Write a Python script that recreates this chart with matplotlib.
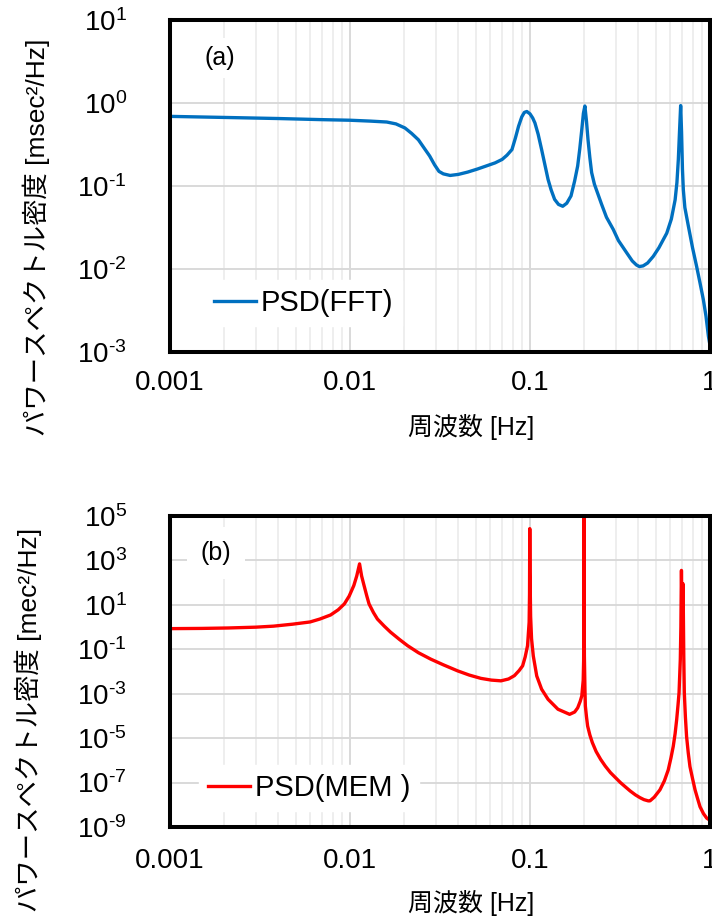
import math
import matplotlib
matplotlib.use("Agg")
import matplotlib.pyplot as plt
from matplotlib.ticker import FixedLocator, FuncFormatter, LogLocator, NullFormatter

plt.rcParams['font.family'] = ['Liberation Sans', 'Noto Sans CJK JP']
plt.rcParams['mathtext.fontset'] = 'custom'
plt.rcParams['mathtext.rm'] = 'Liberation Sans'
plt.rcParams['mathtext.it'] = 'Liberation Sans:italic'
plt.rcParams['mathtext.bf'] = 'Liberation Sans:bold'

# (a) FFT power spectral density
fft_freq = [0.001, 0.002, 0.004, 0.007, 0.01, 0.013, 0.016, 0.018, 0.0202, 0.022,
            0.024, 0.026, 0.0277, 0.0295, 0.0312, 0.033, 0.036, 0.040, 0.045, 0.051,
            0.057, 0.064, 0.070, 0.0745, 0.0794, 0.083, 0.0864, 0.090, 0.093, 0.096,
            0.100, 0.1035, 0.1065, 0.111, 0.116, 0.121, 0.126, 0.131, 0.137, 0.144,
            0.152, 0.160, 0.169, 0.177, 0.184, 0.189, 0.194, 0.198, 0.2018, 0.206,
            0.210, 0.215, 0.220, 0.228, 0.237, 0.25, 0.266, 0.29, 0.31, 0.345,
            0.37, 0.39, 0.405, 0.425, 0.45, 0.484, 0.52, 0.575, 0.61, 0.64,
            0.655, 0.667, 0.677, 0.687, 0.695, 0.703, 0.711, 0.725, 0.758, 0.80,
            0.843, 0.88, 0.918, 0.95, 0.98, 1.0]
fft_psd = [0.69, 0.67, 0.65, 0.63, 0.62, 0.605, 0.59, 0.56, 0.50, 0.43,
           0.36, 0.28, 0.23, 0.18, 0.15, 0.14, 0.134, 0.138, 0.147, 0.16,
           0.174, 0.19, 0.209, 0.235, 0.275, 0.38, 0.525, 0.68, 0.77, 0.79,
           0.74, 0.66, 0.575, 0.42, 0.275, 0.18, 0.12, 0.09, 0.069, 0.06,
           0.057, 0.062, 0.076, 0.115, 0.174, 0.28, 0.48, 0.75, 0.92, 0.6,
           0.363, 0.22, 0.145, 0.105, 0.083, 0.06, 0.042, 0.03, 0.022, 0.0156,
           0.0125, 0.0112, 0.0107, 0.0109, 0.0118, 0.0142, 0.018, 0.027, 0.040, 0.068,
           0.11, 0.21, 0.45, 0.93, 0.45, 0.16, 0.09, 0.055, 0.033, 0.018,
           0.0107, 0.0068, 0.0043, 0.0027, 0.00155, 0.0012]

# (b) MEM power spectral density
mem_freq = [0.001, 0.0015, 0.0021, 0.003, 0.00376, 0.0048, 0.006, 0.0068, 0.0078, 0.0086,
            0.0093, 0.0099, 0.0105, 0.0109, 0.0113, 0.0116, 0.01197, 0.0124, 0.01276, 0.0135,
            0.0142, 0.0155, 0.0168, 0.0188, 0.0209, 0.024, 0.0281, 0.033, 0.0396, 0.046,
            0.0534, 0.061, 0.069, 0.076, 0.0819, 0.087, 0.091, 0.094, 0.0969, 0.0989,
            0.0994, 0.0997, 0.1000, 0.1008, 0.102, 0.1043, 0.109, 0.116, 0.126, 0.143,
            0.166, 0.177, 0.184, 0.190, 0.194, 0.1975, 0.1986, 0.1993, 0.1996, 0.2000,
            0.2005, 0.202, 0.203, 0.206, 0.209, 0.215, 0.222, 0.233, 0.247, 0.262,
            0.28, 0.30, 0.318, 0.338, 0.36, 0.385, 0.408, 0.43, 0.454, 0.464,
            0.49, 0.527, 0.558, 0.586, 0.607, 0.625, 0.64, 0.653, 0.664, 0.673,
            0.684, 0.689, 0.692, 0.694, 0.697, 0.700, 0.703, 0.706, 0.708, 0.711,
            0.715, 0.72, 0.73, 0.741, 0.757, 0.774, 0.80, 0.826, 0.85, 0.88,
            0.92, 0.959, 1.0]
mem_psd = [0.85, 0.87, 0.91, 0.99, 1.1, 1.35, 1.7, 2.3, 3.5, 6,
           11, 25, 74, 200, 700, 200, 74, 25, 11, 4.5,
           2.3, 1.1, 0.59, 0.28, 0.145, 0.07, 0.036, 0.02, 0.0107, 0.0069,
           0.0049, 0.0041, 0.0038, 0.0046, 0.0065, 0.011, 0.018, 0.045, 0.145, 1.65,
           30, 2.7e4, 300, 3, 0.3, 0.05, 0.0063, 0.0016, 5.6e-4, 2e-4,
           1.18e-4, 1.5e-4, 2.3e-4, 4.5e-4, 8e-4, 0.004, 0.03, 10, 1.5e5, 10,
           0.05, 1.5e-3, 2.8e-4, 9e-5, 3.5e-5, 1.4e-5, 6.3e-6, 2.5e-6, 1.1e-6, 5.5e-7,
           2.8e-7, 1.6e-7, 1e-7, 6.5e-8, 4.2e-8, 2.8e-8, 2.1e-8, 1.7e-8, 1.5e-8, 1.5e-8,
           2.2e-8, 4.7e-8, 1.2e-7, 3.7e-7, 1.3e-6, 4.3e-6, 1.6e-5, 6.9e-5, 3e-4, 1.1e-3,
           0.035, 1, 50, 355, 30, 3, 5, 60, 89, 5,
           0.05, 1.1e-3, 9e-5, 1.2e-5, 2.2e-6, 5.2e-7, 1.5e-7, 4.7e-8, 2.1e-8, 8.2e-9,
           4e-9, 2.5e-9, 2e-9]

x_ticks = [0.001, 0.01, 0.1, 1]
x_tick_labels = ['0.001', '0.01', '0.1', '1']
y_ticks_a = [1e-3, 1e-2, 1e-1, 1e0, 1e1]
y_ticks_b = [1e-9, 1e-7, 1e-5, 1e-3, 1e-1, 1e1, 1e3, 1e5]

ylabel_a = 'パワースペクトル密度 [msec²/Hz]'
ylabel_b = 'パワースペクトル密度 [mec²/Hz]'
xlabel = '周波数 [Hz]'


def pow_label(v, pos):
    e = int(round(math.log10(v)))
    if e < 0:
        return r'$\mathregular{10^{\text{-}%d}}$' % (-e)
    return r'$\mathregular{10^{%d}}$' % e


def style(ax, yticks, ylim, xpad):
    ax.set_xscale('log')
    ax.set_yscale('log')
    ax.set_xlim(0.001, 1)
    ax.set_ylim(*ylim)
    ax.xaxis.set_major_locator(FixedLocator(x_ticks))
    ax.set_xticklabels(x_tick_labels)
    ax.xaxis.set_minor_locator(LogLocator(base=10, subs=range(2, 10), numticks=20))
    ax.xaxis.set_minor_formatter(NullFormatter())
    ax.yaxis.set_major_locator(FixedLocator(yticks))
    ax.yaxis.set_major_formatter(FuncFormatter(pow_label))
    ax.yaxis.set_minor_locator(FixedLocator([]))
    ax.tick_params(axis='both', which='both', length=0)
    ax.tick_params(axis='x', labelsize=20, pad=xpad)
    ax.tick_params(axis='y', labelsize=20, pad=31)
    ax.grid(True, which='major', color='#d9d9d9', lw=1.4)
    ax.grid(True, which='minor', axis='x', color='#eeeeee', lw=1.4)
    ax.set_axisbelow(True)
    for s in ax.spines.values():
        s.set_linewidth(2.9)
        s.set_color('black')
        s.set_zorder(5)


fig = plt.figure(figsize=(7.12, 9.18), dpi=100)
ax1 = fig.add_axes([170/712, 1-352/918, 540/712, 332/918])
ax2 = fig.add_axes([170/712, 1-827/918, 540/712, 311/918])

style(ax1, y_ticks_a, (1e-3, 1e1), 13)
style(ax2, y_ticks_b, (1e-9, 1e5), 15)

ax1.plot(fft_freq, fft_psd, color='#0070c0', lw=2.4, label='PSD(FFT)')
ax2.plot(mem_freq, mem_psd, color='#ff0000', lw=2.4, label='PSD(MEM )')

for ax, pos in ((ax1, (0.065, 0.148)), (ax2, (0.054, 0.125))):
    leg = ax.legend(loc='center left', bbox_to_anchor=pos, borderaxespad=0,
                    fontsize=21, frameon=True, fancybox=False, handlelength=1.45,
                    handletextpad=0.15, borderpad=0.3)
    leg.get_frame().set_facecolor('white')
    leg.get_frame().set_edgecolor('white')
    leg.get_frame().set_alpha(1)

ax1.text(0.093, 0.885, '(a)', transform=ax1.transAxes, fontsize=18, ha='center', va='center',
         bbox=dict(facecolor='white', edgecolor='none', pad=6))
ax2.text(0.085, 0.88, '(b)', transform=ax2.transAxes, fontsize=18, ha='center', va='center',
         bbox=dict(facecolor='white', edgecolor='none', pad=10))

ax1.set_ylabel(ylabel_a, fontsize=19, va='center')
ax1.yaxis.set_label_coords(-0.248, 0.346)
ax2.set_ylabel(ylabel_b, fontsize=19, va='center')
ax2.yaxis.set_label_coords(-0.263, 0.344)

ax1.set_xlabel(xlabel, fontsize=18, va='center')
ax1.xaxis.set_label_coords(0.557, -0.226)
ax2.set_xlabel(xlabel, fontsize=18, va='center')
ax2.xaxis.set_label_coords(0.557, -0.244)

fig.savefig('out.png', dpi=100)
